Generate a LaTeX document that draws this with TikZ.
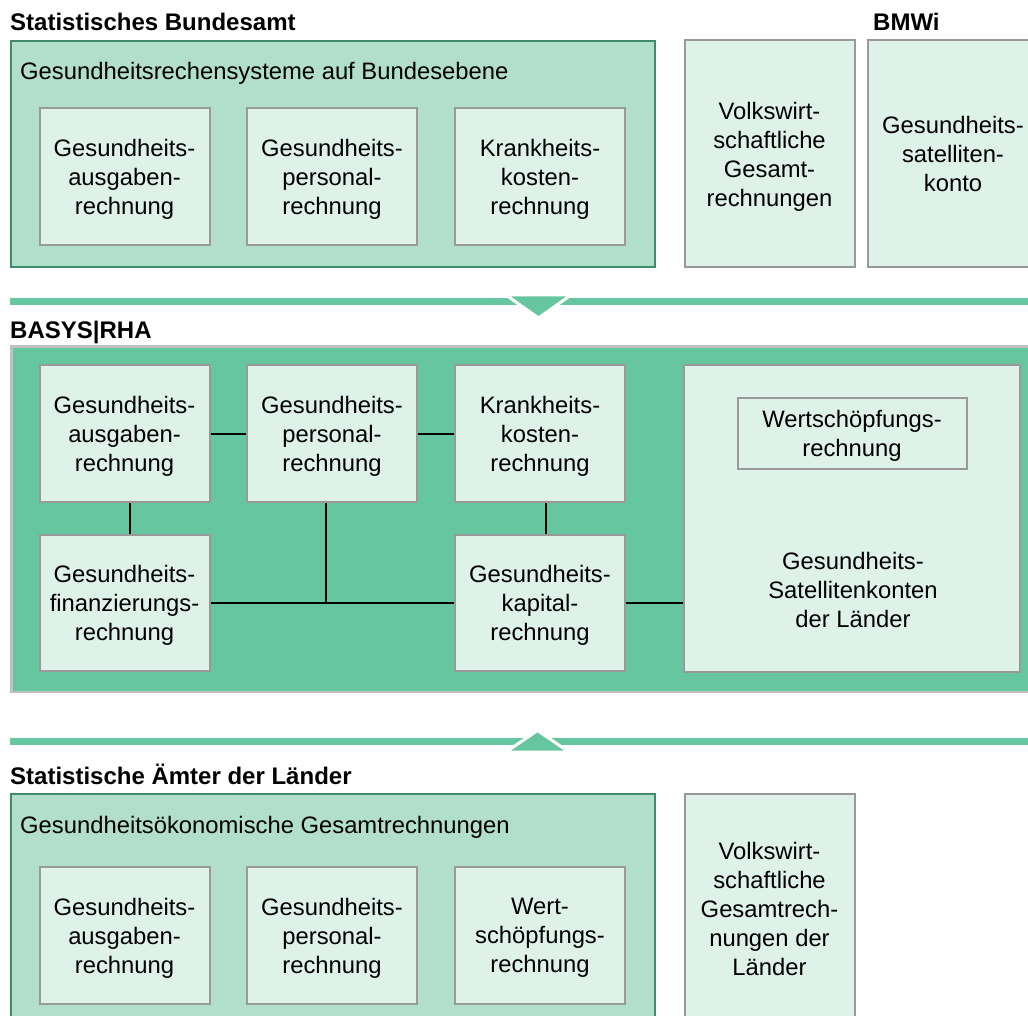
\documentclass[tikz,border=0pt]{standalone}
\usepackage{fontspec}
\setmainfont{Liberation Sans}
\usetikzlibrary{calc, positioning}
\definecolor{basysgreen}{HTML}{66C6A0}
\definecolor{mintfill}{HTML}{B2DFCB}
\definecolor{palefill}{HTML}{DFF2EA}
\definecolor{darkedge}{HTML}{3F8A68}
\definecolor{grayedge}{HTML}{999999}
\definecolor{lightedge}{HTML}{C0C0C0}
\newcommand{\boxfont}{\fontsize{23.8}{29}\selectfont}
\newcommand{\headfont}{\fontsize{24}{28}\selectfont\bfseries}

\begin{document}
\begin{tikzpicture}[x=1pt, y=-1pt,
  cell/.style={draw=grayedge, fill=palefill, line width=2pt, minimum width=170pt,
    minimum height=137pt, inner sep=0pt, align=center, text depth=0pt, font=\boxfont},
  frame/.style={draw=darkedge, fill=mintfill, line width=2.5pt},
  head/.style={anchor=base west, inner sep=0pt, font=\headfont},
  sub/.style={anchor=base west, inner sep=0pt, font=\boxfont},
  link/.style={line width=2pt, black},
  band/.style={draw=basysgreen, line width=7pt},
  tip/.style={fill=basysgreen, draw=white, line width=3pt}]
\useasboundingbox (0,0) rectangle (1028,1016);
\clip (0,0) rectangle (1028,1016);

% Bund
\node[head] (destatis) at (10,31) {Statistisches Bundesamt};
\node[head] (bmwi) at (873,31) {BMWi};
\draw[frame] (11,41) rectangle (655,267);
\node[sub] (bund) at (20,80) {Gesundheitsrechensysteme auf Bundesebene};
\foreach \x/\n/\t in {124.5/sb-ausg/{Gesundheits-\\ausgaben-\\rechnung},
    332/sb-pers/{Gesundheits-\\personal-\\rechnung},
    540/sb-krank/{Krankheits-\\kosten-\\rechnung}}
  \node[cell] (\n) at (\x,177) {\t};
\node[cell, minimum height=227pt] (vgr) at (769.5,154) {Volkswirt-\\schaftliche\\Gesamt-\\rechnungen};
\node[cell, minimum height=227pt] (gsk) at (953,154) {Gesundheits-\\satelliten-\\konto};

\draw[band] (10,301.5) -- (1028,301.5);
\filldraw[tip] (506,295) -- (571,295) -- (538.5,318) -- cycle;

% BASYS|RHA
\node[head] (basys) at (10,338) {BASYS|RHA};
\draw[draw=lightedge, fill=basysgreen, line width=2.5pt] (11.25,346.5) rectangle (1040,692);
\foreach \x/\n/\t in {124.5/ba-ausg/{Gesundheits-\\ausgaben-\\rechnung},
    332/ba-pers/{Gesundheits-\\personal-\\rechnung},
    540/ba-krank/{Krankheits-\\kosten-\\rechnung}}
  \node[cell] (\n) at (\x,433.5) {\t};
\node[cell, minimum height=136pt] (ba-fin) at (124.5,603) {Gesundheits-\\finanzierungs-\\rechnung};
\node[cell, minimum height=136pt] (ba-kap) at (540,603) {Gesundheits-\\kapital-\\rechnung};
\node[cell, minimum width=336pt, minimum height=307pt] (ba-laender) at (852,518.5) {};
\node[cell, minimum width=229pt, minimum height=71pt] (ba-wert) at (852,433) {Wertschöpfungs-\\rechnung};
\node[align=center, font=\boxfont, inner sep=0pt] (ba-laender-text) at (853,590)
  {Gesundheits-\\Satellitenkonten\\der Länder};

\draw[link] (ba-ausg) -- (ba-pers);
\draw[link] (ba-pers) -- (ba-krank);
\draw[link] ([xshift=5pt]ba-ausg.south) -- ([xshift=5pt]ba-ausg.south |- ba-fin.north);
\draw[link] ([xshift=6pt]ba-krank.south) -- ([xshift=6pt]ba-krank.south |- ba-kap.north);
\draw[link] (ba-fin) -- (ba-kap);
\draw[link] ([xshift=-6pt]ba-pers.south) -- ([xshift=-6pt]ba-pers.south |- ba-fin.east);
\draw[link] (ba-kap.east) -- (ba-kap.east -| ba-laender.west);

\draw[band] (10,741) -- (1028,741);
\filldraw[tip] (506,752) -- (569,752) -- (537.5,730.5) -- cycle;

% Laender
\node[head] (aemter) at (10,784) {Statistische Ämter der Länder};
\draw[frame] (11,794) rectangle (655,1030);
\node[sub] (goegr) at (20,833) {Gesundheitsökonomische Gesamtrechnungen};
\foreach \x/\n/\t in {124.5/sl-ausg/{Gesundheits-\\ausgaben-\\rechnung},
    332/sl-pers/{Gesundheits-\\personal-\\rechnung},
    540/sl-wert/{Wert-\\schöpfungs-\\rechnung}}
  \node[cell] (\n) at (\x,935.5) {\t};
\node[cell, minimum height=229pt] (vgrl) at (769.5,908.5)
  {Volkswirt-\\schaftliche\\Gesamtrech-\\nungen der\\Länder};
\end{tikzpicture}
\end{document}
